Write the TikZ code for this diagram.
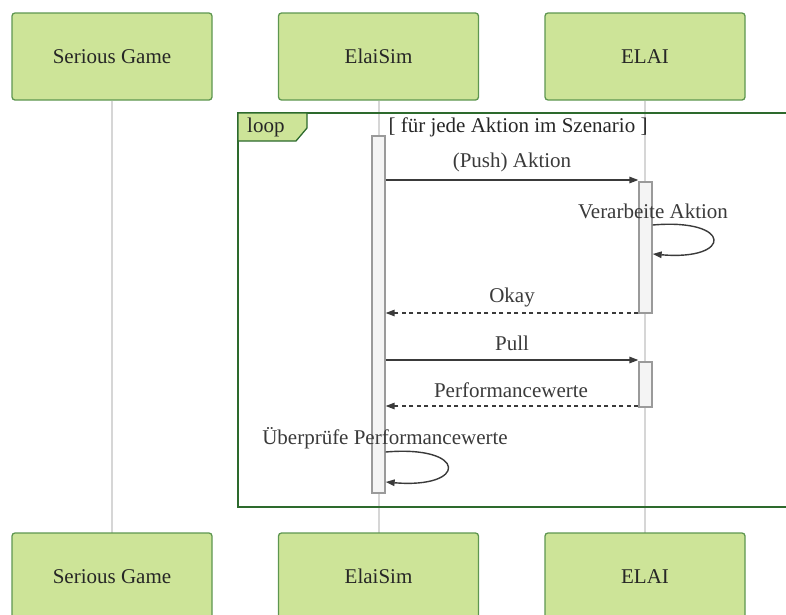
\documentclass[tikz,border=0pt]{standalone}
\usepackage{fontspec}
\setmainfont{Liberation Serif}
\newfontfamily\diagfont{Liberation Serif}
\usetikzlibrary{arrows.meta}
\definecolor{actorfill}{HTML}{CDE498}
\definecolor{actorline}{HTML}{5E9650}
\definecolor{framegreen}{HTML}{2D6A2D}
\definecolor{lifegray}{HTML}{D6D6D6}
\definecolor{actfill}{HTML}{F4F4F4}
\definecolor{actline}{HTML}{9A9A9A}
\definecolor{msgcol}{HTML}{3A3A3A}
\tikzset{
  actor/.style={draw=actorline, fill=actorfill, line width=1.3pt, rounded corners=3pt,
    minimum width=200pt, minimum height=87pt, inner sep=0pt, font=\diagfont\fontsize{21}{25}\selectfont, text=black!85},
  lifeline/.style={draw=lifegray, line width=2pt},
  activation/.style={draw=actline, fill=actfill, line width=1.3pt, minimum width=13pt, inner sep=0pt},
  msg/.style={draw=msgcol, line width=1.4pt, -{Triangle[length=9pt,width=6.5pt]}},
  reply/.style={msg, dash pattern=on 4pt off 3.5pt},
  lbl/.style={font=\diagfont\fontsize{21}{25}\selectfont, text=msgcol, inner sep=0pt},
}
\begin{document}
\begin{tikzpicture}[x=1pt,y=-1pt]
\useasboundingbox (0,0) rectangle (786,614);

% participants, top and bottom
\node[actor] (sgTop) at (112,56.5) {Serious Game};
\node[actor] (esTop) at (378.5,56.5) {ElaiSim};
\node[actor] (elTop) at (645,56.5) {ELAI};

% lifelines
\draw[lifeline] (sgTop.south) -- (112,533);
\draw[lifeline] (esTop.south) -- (378.5,533);
\draw[lifeline] (elTop.south) -- (645,533);

\node[actor] (sgBot) at (112,576.5) {Serious Game};
\node[actor] (esBot) at (378.5,576.5) {ElaiSim};
\node[actor] (elBot) at (645,576.5) {ELAI};

% loop frame with its tag
\draw[framegreen, line width=2pt] (800,113) -- (238,113) -- (238,507) -- (800,507);
\draw[framegreen, line width=1.3pt, fill=actorfill]
  (238,113) -- (307,113) -- (307,128) -- (296,141) -- (238,141) -- cycle;
\node[lbl, text=black!85, anchor=west] (looptag) at (247,127) {loop};
\node[lbl, text=black!85] (guard) at (518,127) {[ für jede Aktion im Szenario ]};

% activations
\node[activation, minimum height=357pt] (actEs) at (378.5,314.5) {};
\node[activation, minimum height=131pt] (actEl1) at (645.5,247.5) {};
\node[activation, minimum height=45pt] (actEl2) at (645.5,384.5) {};

% message end points
\coordinate (m1a) at (actEs.east |- 0,180);
\coordinate (m1b) at (actEl1.west |- 0,180);
\coordinate (m2a) at (actEl1.west |- 0,313);
\coordinate (m2b) at (actEs.east |- 0,313);
\coordinate (m3a) at (actEs.east |- 0,360);
\coordinate (m3b) at (actEl2.west |- 0,360);
\coordinate (m4a) at (actEl2.west |- 0,406);
\coordinate (m4b) at (actEs.east |- 0,406);
\coordinate (s1a) at (actEl1.east |- 0,225);
\coordinate (s1b) at (actEl1.east |- 0,254);
\coordinate (s2a) at (actEs.east |- 0,452);
\coordinate (s2b) at (actEs.east |- 0,482);

% messages
\draw[msg] (m1a) -- (m1b);
\node[lbl] (t1) at (512,162) {(Push) Aktion};

\node[lbl] (t2) at (653,211) {Verarbeite Aktion};
\draw[msg] (s1a) .. controls (733,218) and (733,261) .. (s1b);

\draw[reply] (m2a) -- (m2b);
\node[lbl] (t3) at (512,297) {Okay};

\draw[msg] (m3a) -- (m3b);
\node[lbl] (t4) at (512,343) {Pull};

\draw[reply] (m4a) -- (m4b);
\node[lbl] (t5) at (511,390) {Performancewerte};

\node[lbl] (t6) at (385,438) {Überprüfe Performancewerte};
\draw[msg] (s2a) .. controls (468,445) and (468,489) .. (s2b);
\end{tikzpicture}
\end{document}
